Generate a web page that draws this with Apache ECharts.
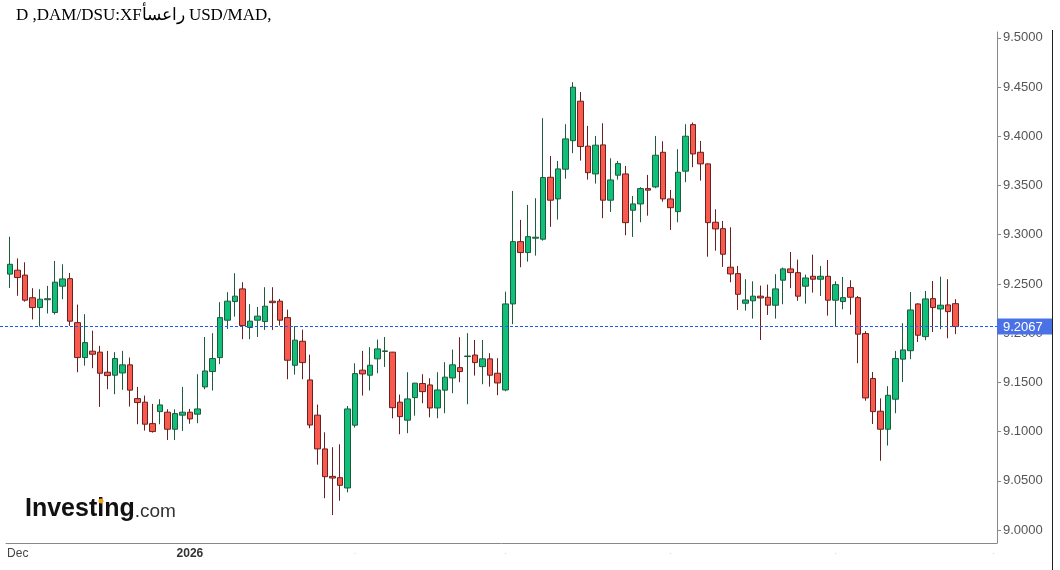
<!DOCTYPE html>
<html>
<head>
<meta charset="utf-8">
<script src="https://cdn.jsdelivr.net/npm/echarts@6/dist/echarts.min.js"></script>
<style>
  html, body { margin: 0; background: #fff; }
  #main { width: 1060px; height: 570px; }
</style>
</head>
<body>
<div id="main"></div>
<script>
// daily USD/MAD candles
const opens = [9.260, 9.264, 9.259, 9.236, 9.226, 9.234, 9.221, 9.2477, 9.2554, 9.2107,
  9.1752, 9.1817, 9.1807, 9.1603, 9.1573, 9.1596, 9.1678, 9.1335, 9.1299, 9.1081,
  9.1203, 9.1197, 9.1024, 9.1167, 9.1197, 9.1177, 9.1454, 9.161, 9.1752, 9.2132,
  9.2321, 9.245, 9.2057, 9.2132, 9.2118, 9.2325, 9.2325, 9.2158, 9.1674, 9.1918,
  9.1525, 9.1167, 9.0824, 9.0545, 9.0532, 9.0427, 9.1065, 9.1624, 9.1573, 9.1739,
  9.1814, 9.1807, 9.1299, 9.1116, 9.1345, 9.1488, 9.1474, 9.124, 9.1421, 9.1545,
  9.165, 9.1762, 9.1778, 9.166, 9.1739, 9.1593, 9.1423, 9.2297, 9.293, 9.2819,
  9.2965, 9.2955, 9.3584, 9.3364, 9.3666, 9.3956, 9.4357, 9.39, 9.3618, 9.3913,
  9.3351, 9.3605, 9.3618, 9.3249, 9.3313, 9.3469, 9.3486, 9.3838, 9.3364, 9.3235,
  9.3646, 9.4119, 9.3838, 9.372, 9.3127, 9.3062, 9.267, 9.2605, 9.2304, 9.2329,
  9.2376, 9.2365, 9.2284, 9.2538, 9.2653, 9.2615, 9.2477, 9.2578, 9.2548, 9.2578,
  9.2335, 9.2321, 9.2463, 9.2361, 9.1996, 9.1539, 9.1207, 9.1024, 9.1329, 9.1736,
  9.1822, 9.2297, 9.1965, 9.2351, 9.2246, 9.2287, 9.230]
const closes = [9.270, 9.2565, 9.2335, 9.226, 9.2345, 9.235, 9.2518, 9.2551, 9.2122, 9.1752,
  9.1904, 9.1786, 9.1593, 9.1569, 9.1742, 9.1678, 9.1421, 9.1295, 9.1075, 9.100,
  9.1271, 9.1024, 9.1183, 9.1197, 9.1129, 9.123, 9.1616, 9.1742, 9.2158, 9.2325,
  9.2376, 9.2077, 9.2122, 9.2173, 9.2274, 9.231, 9.2132, 9.1725, 9.1929, 9.1701,
  9.1067, 9.0824, 9.0542, 9.0528, 9.0454, 9.123, 9.1589, 9.1586, 9.1674, 9.184,
  9.182, 9.1243, 9.1152, 9.1332, 9.1492, 9.1406, 9.124, 9.1423, 9.1553, 9.1678,
  9.161, 9.1768, 9.1701, 9.1739, 9.1573, 9.1494, 9.2297, 9.293, 9.2819, 9.2981,
  9.2975, 9.3581, 9.3351, 9.3669, 9.3974, 9.4499, 9.3896, 9.3631, 9.391, 9.3351,
  9.3557, 9.3723, 9.3123, 9.3313, 9.3469, 9.3453, 9.3808, 9.3364, 9.3275, 9.3635,
  9.4001, 9.3821, 9.372, 9.3123, 9.3059, 9.2802, 9.2602, 9.2395, 9.2337, 9.2376,
  9.2358, 9.2284, 9.245, 9.2653, 9.2615, 9.2376, 9.2561, 9.2548, 9.2578, 9.2335,
  9.2493, 9.2361, 9.2365, 9.199, 9.1342, 9.1203, 9.1024, 9.1369, 9.1742, 9.183,
  9.2236, 9.1979, 9.2348, 9.226, 9.2284, 9.2219, 9.2067]
const lows = [9.246, 9.238, 9.232, 9.214, 9.2067, 9.220, 9.219, 9.2345, 9.2074, 9.1603,
  9.167, 9.1644, 9.1251, 9.1431, 9.138, 9.1424, 9.1254, 9.1075, 9.101, 9.099,
  9.1075, 9.0915, 9.0915, 9.1007, 9.108, 9.1085, 9.1431, 9.1417, 9.1685, 9.2043,
  9.2168, 9.1939, 9.1939, 9.1961, 9.2033, 9.2033, 9.2077, 9.1532, 9.1579, 9.1532,
  9.1034, 9.0664, 9.0323, 9.0152, 9.0298, 9.0383, 9.1041, 9.1366, 9.1417, 9.1593,
  9.1657, 9.1135, 9.0973, 9.0984, 9.1162, 9.1288, 9.1145, 9.1135, 9.1187, 9.139,
  9.1502, 9.1278, 9.1569, 9.1481, 9.1457, 9.137, 9.141, 9.2091, 9.267, 9.2727,
  9.2788, 9.294, 9.308, 9.3154, 9.357, 9.3829, 9.3753, 9.356, 9.352, 9.3168,
  9.3232, 9.356, 9.2995, 9.2978, 9.3127, 9.3194, 9.3473, 9.3336, 9.3049, 9.3127,
  9.3534, 9.3686, 9.355, 9.2777, 9.2838, 9.2673, 9.2517, 9.2236, 9.2229, 9.2148,
  9.1931, 9.2185, 9.2148, 9.2294, 9.2457, 9.2329, 9.230, 9.2412, 9.2378, 9.2178,
  9.2067, 9.2243, 9.2188, 9.1695, 9.1314, 9.1077, 9.0704, 9.0858, 9.1187, 9.1504,
  9.1736, 9.1911, 9.1928, 9.2012, 9.204, 9.1948, 9.199]
const highs = [9.298, 9.276, 9.272, 9.2457, 9.2447, 9.248, 9.2734, 9.270, 9.2612, 9.229,
  9.2193, 9.2026, 9.1871, 9.182, 9.1807, 9.182, 9.1752, 9.1454, 9.1366, 9.1281,
  9.1329, 9.1227, 9.1227, 9.1454, 9.123, 9.1583, 9.1961, 9.200, 9.2315, 9.2416,
  9.2609, 9.2518, 9.2294, 9.2267, 9.2467, 9.2467, 9.2348, 9.2239, 9.2071, 9.2036,
  9.1782, 9.1274, 9.0993, 9.0841, 9.0871, 9.126, 9.1694, 9.182, 9.1858, 9.1935,
  9.1961, 9.181, 9.1376, 9.1603, 9.1495, 9.1583, 9.1542, 9.1603, 9.1705, 9.1833,
  9.1959, 9.200, 9.1931, 9.1931, 9.1796, 9.1746, 9.2422, 9.3445, 9.3151, 9.3303,
  9.3371, 9.4184, 9.3801, 9.375, 9.4123, 9.455, 9.4451, 9.4106, 9.4004, 9.4133,
  9.3777, 9.375, 9.3699, 9.3394, 9.3483, 9.3608, 9.4004, 9.395, 9.3455, 9.3869,
  9.4123, 9.414, 9.3953, 9.3727, 9.3259, 9.314, 9.3076, 9.2683, 9.2548, 9.2527,
  9.2483, 9.2493, 9.2599, 9.2666, 9.2825, 9.2747, 9.2595, 9.2798, 9.2683, 9.2744,
  9.2527, 9.2571, 9.2538, 9.2378, 9.202, 9.1606, 9.1338, 9.1461, 9.182, 9.2101,
  9.2419, 9.2304, 9.2429, 9.253, 9.2574, 9.2548, 9.2345]

// 132 day slots on the x axis (last few empty)
const slotCount = 132
const tickIdx = [0, 24, 46, 66, 88, 110, 131]
const tickLabels = ['Dec', '2026', '.', '.', '.', '.', '.']
const yTicks = [9.0, 9.05, 9.1, 9.15, 9.2, 9.25, 9.3, 9.35, 9.4, 9.45, 9.5]
const lastPrice = 9.2067

const slots = []
for (let i = 0; i < slotCount; i++) slots.push('d' + i)

const candles = opens.map((o, i) => [o, closes[i], lows[i], highs[i]])

// title as shown in the picture (reversed characters like the original)
const titleText = 'D ,DAM/DSU:XFراعسأ USD/MAD,'

const myChart = echarts.init(document.getElementById('main'))

const baseGraphic = [
  {
    type: 'line',
    shape: { x1: 1052.5, y1: 30, x2: 1052.5, y2: 570 },
    style: { stroke: '#222', lineWidth: 1 }
  },
  {
    type: 'text',
    left: 25,
    top: 497,
    style: {
      text: '{b|Investing}{c|.com}',
      rich: {
        b: { fontFamily: 'Liberation Sans', fontWeight: 'bold', fontSize: 25, fill: '#111' },
        c: { fontFamily: 'Liberation Sans', fontSize: 19, fill: '#333', padding: [5, 0, 0, 0] }
      }
    }
  },
  {
    type: 'circle',
    shape: { cx: 101, cy: 501, r: 2.5 },
    style: { fill: '#f5a01a' },
    z: 10
  }
]

const option = {
  animation: false,
  backgroundColor: '#fff',
  title: {
    text: titleText,
    left: 11,
    top: 2,
    textStyle: { fontFamily: 'Liberation Serif', fontSize: 17, fontWeight: 'normal', color: '#000' }
  },
  grid: { left: 6, right: 63, top: 32, bottom: 27 },
  xAxis: {
    type: 'category',
    data: slots,
    boundaryGap: true,
    axisLine: { lineStyle: { color: '#888' } },
    axisTick: {
      alignWithLabel: true,
      length: 5,
      lineStyle: { color: '#888' },
      interval: (i) => tickIdx.includes(i)
    },
    axisLabel: {
      interval: (i) => tickIdx.includes(i),
      margin: 5,
      fontFamily: 'Liberation Sans',
      fontSize: 12,
      color: '#444',
      formatter: (v, i) => {
        const k = tickIdx.indexOf(i)
        if (k === 0) return '{first|' + tickLabels[k] + '}'
        if (k === 1) return '{year|' + tickLabels[k] + '}'
        return '{dot|' + tickLabels[k] + '}'
      },
      rich: {
        first: { padding: [0, 0, 0, 16], fontSize: 12, color: '#444', fontFamily: 'Liberation Sans' },
        year: { fontWeight: 'bold', fontSize: 12, color: '#333', fontFamily: 'Liberation Sans' },
        dot: { fontSize: 8, color: '#bbb' }
      }
    },
    splitLine: { show: false }
  },
  yAxis: {
    type: 'value',
    position: 'right',
    scale: true,
    min: 8.9868,
    max: 9.506,
    axisLine: { show: true, lineStyle: { color: '#888' } },
    axisTick: { show: true, length: 4, customValues: yTicks, lineStyle: { color: '#888' } },
    axisLabel: {
      customValues: yTicks,
      formatter: (v) => v.toFixed(4),
      fontFamily: 'Liberation Sans',
      fontSize: 13,
      color: '#555',
      margin: 6
    },
    splitLine: { show: false }
  },
  series: [
    {
      type: 'candlestick',
      data: candles,
      barWidth: 6,
      itemStyle: {
        color: '#10c07a',
        color0: '#f85a4e',
        borderColor: '#1e5a3c',
        borderColor0: '#6b2020',
        borderWidth: 1
      }
    }
  ],
  graphic: baseGraphic
}
myChart.setOption(option)

// last price line + tag, placed through the y axis scale
const yLast = Math.floor(myChart.convertToPixel({ yAxisIndex: 0 }, lastPrice)) + 0.5
const plotRight = myChart.convertToPixel({ xAxisIndex: 0 }, slots[slotCount - 1]) + 3.75
myChart.setOption({
  graphic: baseGraphic.concat([
    {
      type: 'line',
      shape: { x1: 0, y1: yLast, x2: plotRight, y2: yLast },
      style: { stroke: '#1f55ff', lineWidth: 1, lineDash: [3, 2] },
      z: 5
    },
    {
      type: 'rect',
      shape: { x: plotRight, y: yLast - 8, width: 55, height: 16 },
      style: { fill: '#4a72e6' },
      z: 6
    },
    {
      type: 'text',
      x: plotRight + 6,
      y: yLast + 0.5,
      style: {
        text: lastPrice.toFixed(4),
        fill: '#fff',
        font: '13px "Liberation Sans"',
        verticalAlign: 'middle'
      },
      z: 7
    }
  ])
})
</script>
</body>
</html>
